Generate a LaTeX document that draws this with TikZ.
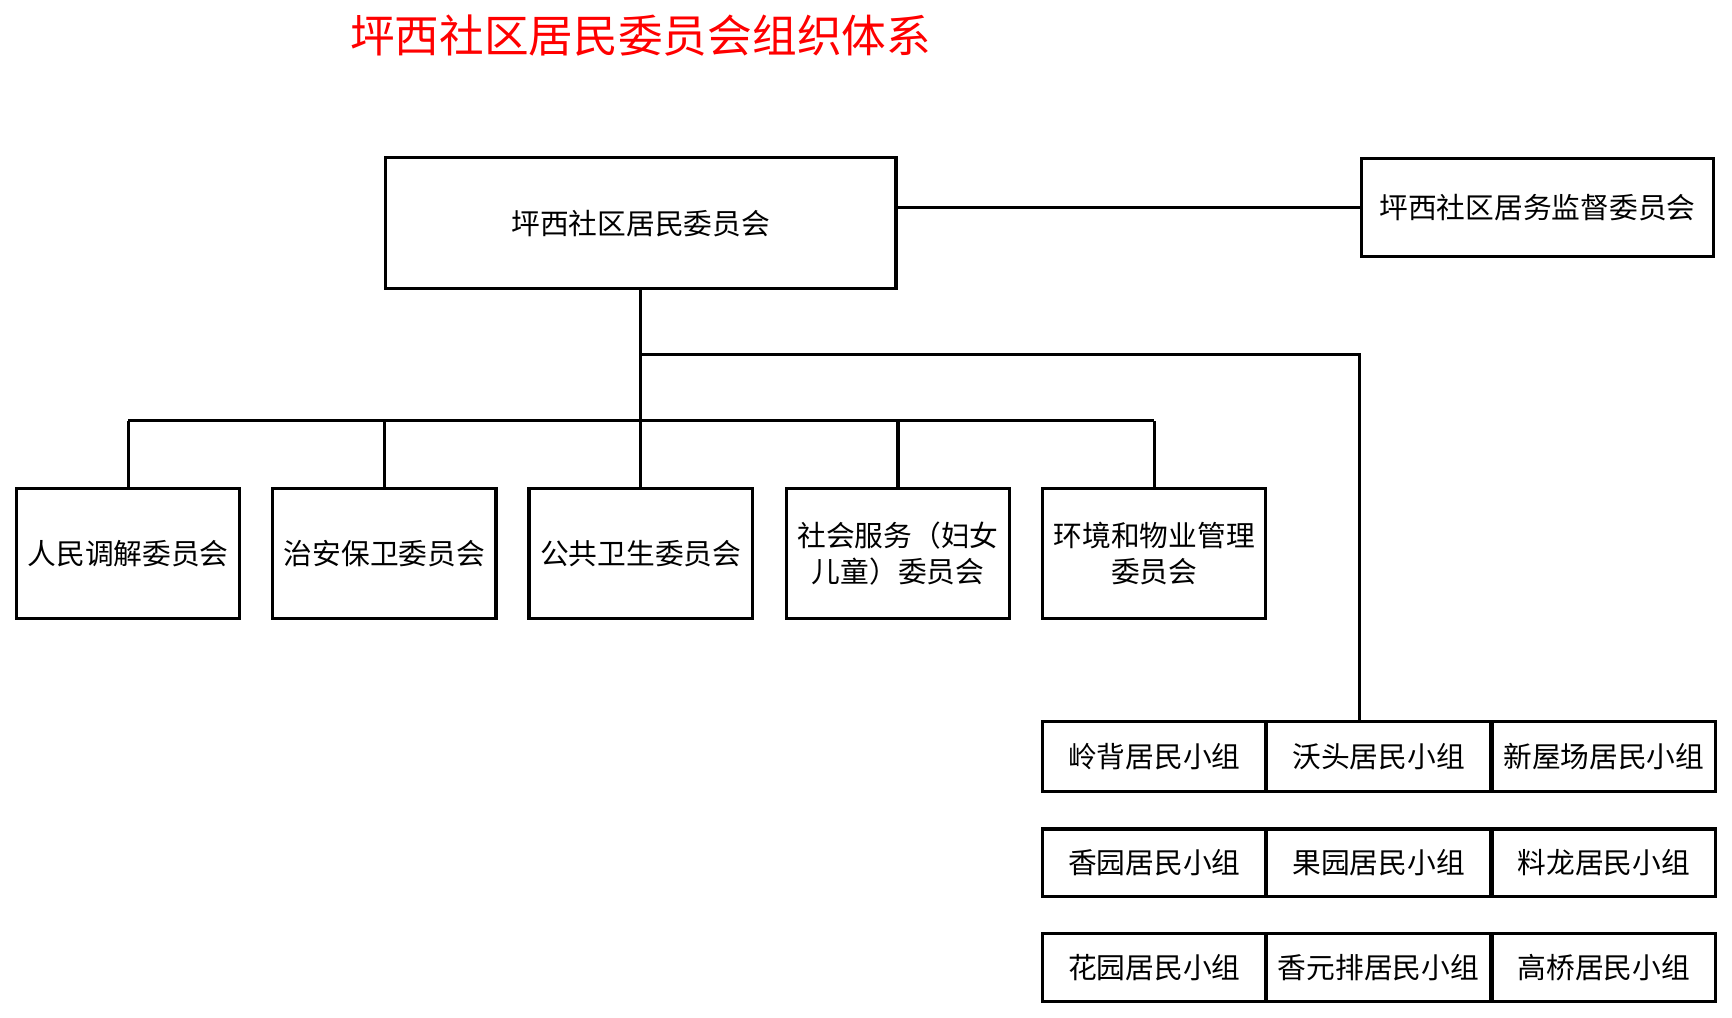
\documentclass[tikz,border=0pt]{standalone}
\usepackage{fontspec}
\newfontfamily\cjk{Noto Sans CJK SC}
\begin{document}
\begin{tikzpicture}[x=0.01cm,y=-0.01cm,font=\cjk\fontsize{7.4}{9.4}\selectfont,
	box/.style={draw,line width=0.8pt,inner sep=1pt,align=center,text width=1.95cm,minimum width=2.0cm,minimum height=1.18cm},
	cell/.style={draw,line width=0.8pt,inner sep=1pt,minimum width=2.02cm,minimum height=0.61cm},
	link/.style={line width=0.8pt}]
	\useasboundingbox (0,0) rectangle (1568,921);
	\node[text=red,font=\cjk\fontsize{11.5}{13}\selectfont] (title) at (580,32) {坪西社区居民委员会组织体系};
	\node[draw,line width=0.8pt,minimum width=4.62cm,minimum height=1.18cm] (main) at (580,202) {坪西社区居民委员会};
	\node[draw,line width=0.8pt,minimum width=3.19cm,minimum height=0.89cm] (sup) at (1392,188) {坪西社区居务监督委员会};
	\draw[link] (main.east |- sup.west) -- (sup.west);
	\node[box] (b1) at (116,501) {人民调解委员会};
	\node[box] (b2) at (348,501) {治安保卫委员会};
	\node[box] (b3) at (580,501) {公共卫生委员会};
	\node[box] (b4) at (813,501) {社会服务（妇女\\儿童）委员会};
	\node[box] (b5) at (1045,501) {环境和物业管理\\委员会};
	\coordinate (bus) at (580,381);
	\draw[link] (main.south) -- (bus);
	\foreach \b in {b1,b2,b4,b5}
		\draw[link] (\b.north) -- (\b.north |- bus);
	\draw[link] (b1.north |- bus) -- (b5.north |- bus);
	\draw[link] (bus) -- (b3.north);
	% resident groups
	\node[cell,minimum height=0.63cm] (g11) at (1045,685) {岭背居民小组};
	\node[cell,minimum height=0.63cm] (g12) at (1248,685) {沃头居民小组};
	\node[cell,minimum height=0.63cm] (g13) at (1452,685) {新屋场居民小组};
	\node[cell] (g21) at (1045,781) {香园居民小组};
	\node[cell] (g22) at (1248,781) {果园居民小组};
	\node[cell] (g23) at (1452,781) {料龙居民小组};
	\node[cell] (g31) at (1045,876) {花园居民小组};
	\node[cell] (g32) at (1248,876) {香元排居民小组};
	\node[cell] (g33) at (1452,876) {高桥居民小组};
	\coordinate (turn) at (1231,321);
	\draw[link] (main.south |- turn) -- (turn) -- (turn |- g12.north);
\end{tikzpicture}
\end{document}
